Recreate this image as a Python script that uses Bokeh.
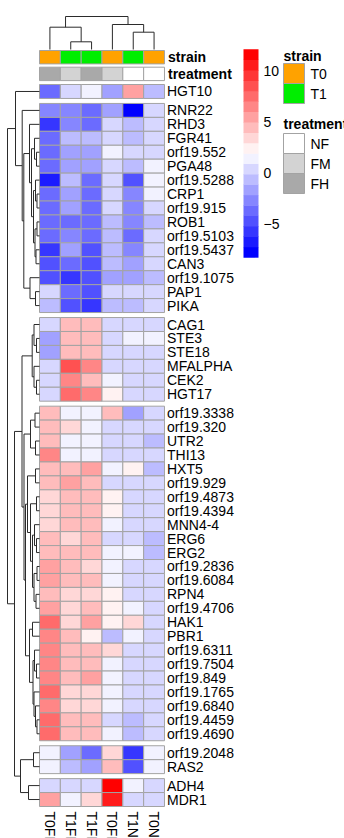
import math
from bokeh.plotting import figure
from bokeh.models import Range1d, ColumnDataSource, LinearColorMapper
from bokeh.core.properties import value
from bokeh.transform import transform
from bokeh.embed import file_html
from bokeh.resources import INLINE

# ---------------- data ----------------
genes = ["HGT10",
         "RNR22", "RHD3", "FGR41", "orf19.552", "PGA48", "orf19.5288", "CRP1", "orf19.915",
         "ROB1", "orf19.5103", "orf19.5437", "CAN3", "orf19.1075", "PAP1", "PIKA",
         "CAG1", "STE3", "STE18", "MFALPHA", "CEK2", "HGT17",
         "orf19.3338", "orf19.320", "UTR2", "THI13", "HXT5", "orf19.929", "orf19.4873",
         "orf19.4394", "MNN4-4", "ERG6", "ERG2", "orf19.2836", "orf19.6084", "RPN4",
         "orf19.4706", "HAK1", "PBR1", "orf19.6311", "orf19.7504", "orf19.849",
         "orf19.1765", "orf19.6840", "orf19.4459", "orf19.4690",
         "orf19.2048", "RAS2",
         "ADH4", "MDR1"]
row_cluster = [1] + [2] * 15 + [3] * 6 + [4] * 24 + [5] * 2 + [6] * 2

samples = ["T0FH", "T1FM", "T1FH", "T0FM", "T1NF", "T0NF"]
strain = ["T0", "T1", "T1", "T0", "T1", "T0"]
treatment = ["FH", "FM", "FH", "FM", "NF", "NF"]
strain_levels = ["T0", "T1"]
strain_colors = ["#FFA200", "#00EE00"]
treatment_levels = ["NF", "FM", "FH"]
treatment_colors = ["#FFFFFF", "#D3D3D3", "#A9A9A9"]

T0FH = [-3.6, -2.8, -5.9, -3.9, -3.8, -3.5, -7.0, -3.7, -3.9, -3.5, -3.9, -6.0, -4.6, -4.9, 0.1, -0.7,
        0.4, -1.9, -2.0, 0.5, 0.6, 0.5,
        4.2, 4.5, 4.4, 6.6, 4.3, 4.6, 3.5, 3.2, 3.3, 4.1, 4.4, 5.2, 5.6, 4.5, 5.3, 7.6, 6.4, 6.3,
        6.5, 6.2, 7.3, 6.4, 7.4, 7.7,
        1.3, 1.4, 0.2, 5.5]
T1FM = [0.2, -2.3, -2.9, -0.9, -1.9, -2.0, -0.8, -1.5, -1.8, -3.4, -2.9, -2.1, -3.8, -5.9, -3.8, -4.4,
        4.3, 4.4, 4.1, 8.7, 6.2, 7.6,
        1.2, 3.1, 1.3, 1.1, 4.7, 5.6, 4.2, 4.6, 4.3, 3.6, 4.2, 4.5, 4.4, 3.6, 3.5, 3.3, 4.2, 4.4,
        4.5, 4.6, 3.4, 3.7, 4.7, 4.5,
        -1.8, -1.1, 0.4, 1.2]
T1FH = [1.2, -3.9, -3.8, -1.0, -1.6, -1.7, -3.6, -3.9, -4.0, -3.8, -3.7, -4.9, -4.7, -4.6, -5.0, -5.5,
        4.2, 4.6, 4.5, 6.4, 4.8, 6.5,
        1.4, 1.2, 1.5, 1.3, 5.1, 4.7, 4.8, 4.4, 4.5, 4.3, 4.5, 3.6, 4.1, 3.7, 4.2, 5.4, 2.1, 4.6,
        4.3, 5.2, 3.5, 3.3, 4.4, 4.6,
        -3.6, -1.9, 0.5, 3.3]
T0FM = [-1.8, -1.6, 0.1, 0.3, 1.5, 0.2, 0.0, 0.4, 0.5, -0.7, -0.6, -0.9, -0.8, -1.8, 0.3, -0.4,
        0.2, 0.4, 0.1, 0.3, 1.3, 2.2,
        4.6, 0.6, 0.3, 0.3, 1.2, 0.4, 2.0, 2.0, 1.5, 0.6, 1.3, 1.2, 1.3, 2.1, 2.3, 2.2, -0.8, 3.5,
        1.4, 1.1, 1.3, 1.5, 0.5, 1.2,
        3.6, 4.2, 12.06, 10.6]
T1NF = [5.3, -8.33, -0.5, -0.8, 0.0, -1.1, -5.0, -2.9, -3.0, -2.6, -4.1, -2.4, -1.9, -1.5, 0.5, -1.0,
        0.6, 1.2, 0.5, 0.4, 0.4, 0.2,
        -1.8, 0.2, 0.4, 0.5, 2.1, 0.6, 0.5, 0.3, 0.4, 0.5, 1.6, 0.4, 0.6, 0.5, 1.4, 3.4, 1.3, 0.3,
        0.5, 0.4, 0.6, 0.3, -0.6, -0.9,
        -5.6, -4.8, 1.3, 0.5]
T0NF = [-0.6, 0.4, 0.5, 0.2, 0.4, 1.1, 1.3, 1.2, 0.6, -0.4, 0.3, 0.3, 0.1, -0.5, 0.2, 0.4,
        0.3, 1.4, 0.5, 0.6, 0.7, 0.3,
        0.5, 0.5, -0.9, 0.6, -0.8, 0.2, 0.4, 0.6, 0.3, -0.9, -1.0, 0.5, 0.4, 0.3, 0.4, 0.5, 0.6, 0.4,
        0.6, 0.5, 0.4, 0.5, 0.3, 0.4,
        1.2, 1.3, 0.6, 0.4]
matrix = [T0FH, T1FM, T1FH, T0FM, T1NF, T0NF]

# hierarchical clustering (left, right, merge height)
row_tree = [
    ["HGT10",
     ["RNR22",
      [["RHD3",
        [["FGR41", ["orf19.552", "PGA48", 3.0], 5.0],
         [["orf19.5288", ["CRP1", "orf19.915", 2.5], 4.0],
          [["ROB1", "orf19.5103", 2.5], ["orf19.5437", "CAN3", 3.5], 4.5], 6.0], 8.0], 10.0],
       ["orf19.1075", ["PAP1", "PIKA", 4.0], 9.5], 15.7], 17.3], 24.0],
    [[[["CAG1", ["STE3", "STE18", 3.0], 5.5],
        ["MFALPHA", ["CEK2", "HGT17", 3.0], 5.5], 7.3],
       [[["orf19.3338", "orf19.320", 4.5], ["UTR2", "THI13", 4.0], 9.0],
        [[["HXT5", "orf19.929", 4.0],
          [["orf19.4873", "orf19.4394", 3.0],
           [["MNN4-4", ["ERG6", "ERG2", 3.0], 5.0],
            [["orf19.2836", "orf19.6084", 2.5], ["RPN4", "orf19.4706", 3.5], 5.5], 7.0], 9.0], 12.0],
         [["HAK1", "PBR1", 7.0],
          [["orf19.6311", ["orf19.7504", "orf19.849", 3.0], 5.0],
           ["orf19.1765", ["orf19.6840", ["orf19.4459", "orf19.4690", 2.5], 4.0], 5.5], 6.5], 10.0],
         14.0], 15.5], 17.5],
     [["orf19.2048", "RAS2", 6.0], ["ADH4", "MDR1", 11.0], 19.0], 25.0],
    32.0]
col_tree = [["T0FH", ["T1FM", "T1FH", 7.7], 22.3],
            ["T0FM", ["T1NF", "T0NF", 17.3], 25.0], 33.0]

legend_ticks = [-5, 0, 5, 10]

# ---------------- palette (blue-white-red ramp, 20 steps) ----------------
N_COL = 20
palette = []
for k in range(N_COL):
    t = k / (N_COL - 1)
    if t <= 0.5:
        f = t / 0.5
        r, g, b = 255 * f, 255 * f, 255
    else:
        f = (t - 0.5) / 0.5
        r, g, b = 255, 255 * (1 - f), 255 * (1 - f)
    palette.append("#%02x%02x%02x" % (round(r), round(g), round(b)))

vmin = min(min(c) for c in matrix)
vmax = max(max(c) for c in matrix)
mapper = LinearColorMapper(palette=palette, low=vmin, high=vmax)

# ---------------- layout ----------------
W, H = 344, 838
X0, CW = 39.0, 20.83
Y0, RH, GAP = 84.0, 13.94, 5.0
ANN_TOP, ANN_H, ANN_STEP = 50.0, 13.4, 16.7
LABX = 166.5
FONT = value("Liberation Sans")
FS = value("14px")
BORDER = "#A3A3A3"
DEND = "#2b2b2b"

p = figure(width=W, height=H, x_range=Range1d(0, W), y_range=Range1d(H, 0),
           x_axis_type=None, y_axis_type=None, toolbar_location=None,
           output_backend="svg", min_border=0, outline_line_color=None)
p.grid.visible = False
p.background_fill_color = "white"
p.border_fill_color = "white"

def row_top(i):
    return Y0 + i * RH + (row_cluster[i] - 1) * GAP

row_center = [row_top(i) + RH / 2 for i in range(len(genes))]
col_center = [X0 + (j + 0.5) * CW for j in range(len(samples))]

# heatmap cells
xs, ys, vs = [], [], []
for j, col in enumerate(matrix):
    for i, v in enumerate(col):
        xs.append(col_center[j]); ys.append(row_center[i]); vs.append(v)
src = ColumnDataSource(dict(x=xs, y=ys, v=vs))
p.rect(x="x", y="y", width=CW, height=RH, source=src,
       fill_color=transform("v", mapper), line_color=BORDER, line_width=1)

# annotation tracks
ann_x, ann_y, ann_c = [], [], []
for j in range(len(samples)):
    ann_x.append(col_center[j]); ann_y.append(ANN_TOP + ANN_H / 2)
    ann_c.append(strain_colors[strain_levels.index(strain[j])])
    ann_x.append(col_center[j]); ann_y.append(ANN_TOP + ANN_STEP + ANN_H / 2)
    ann_c.append(treatment_colors[treatment_levels.index(treatment[j])])
p.rect(x=ann_x, y=ann_y, width=CW, height=ANN_H, fill_color=ann_c,
       line_color=BORDER, line_width=1)
p.text(x=[LABX + 1, LABX + 1],
       y=[ANN_TOP + ANN_H / 2, ANN_TOP + ANN_STEP + ANN_H / 2],
       text=["strain", "treatment"], text_font=FONT, text_font_size=FS,
       text_font_style="bold", text_baseline="middle", text_align="left")

# row labels
p.text(x=[LABX] * len(genes), y=row_center, text=genes, text_font=FONT,
       text_font_size=FS, text_baseline="middle", text_align="left", text_color="black")

# column labels
p.text(x=col_center, y=[811.0] * len(samples), text=samples, text_font=FONT,
       text_font_size=FS, text_baseline="middle", text_align="left",
       angle=-math.pi / 2)

# dendrograms
def build(node, leafpos, to_xy, lines):
    if isinstance(node, str):
        return leafpos[node], 0.0
    l, r, h = node
    pl, hl = build(l, leafpos, to_xy, lines)
    pr, hr = build(r, leafpos, to_xy, lines)
    pts = [to_xy(pl, hl), to_xy(pl, h), to_xy(pr, h), to_xy(pr, hr)]
    lines.append(([q[0] for q in pts], [q[1] for q in pts]))
    return (pl + pr) / 2, h

row_lines = []
build(row_tree, dict(zip(genes, row_center)), lambda pos, h: (X0 - h, pos), row_lines)
col_lines = []
build(col_tree, dict(zip(samples, col_center)), lambda pos, h: (pos, ANN_TOP - 1 - h), col_lines)
p.multi_line(xs=[a for a, b in row_lines + col_lines], ys=[b for a, b in row_lines + col_lines],
             line_color=DEND, line_width=1)

# colour legend
LB_X, LB_W, LT, LB = 243.0, 15.0, 49.0, 257.0
bh = (LB - LT) / N_COL
p.rect(x=[LB_X + LB_W / 2] * N_COL, y=[LB - (k + 0.5) * bh for k in range(N_COL)],
       width=LB_W, height=bh + 0.4, fill_color=palette, line_color=None)
tick_y = [LB - (t - vmin) / (vmax - vmin) * (LB - LT) for t in legend_ticks]
p.text(x=[LB_X + LB_W + 5] * len(legend_ticks), y=tick_y,
       text=[str(t).replace("-", "\u2212") for t in legend_ticks], text_font=FONT,
       text_font_size=FS, text_baseline="middle", text_align="left")

# annotation legends
LGX, BOXW, BOXH = 283.0, 21.0, 20.0
def ann_legend(title, levels, colors, title_y, box_top):
    p.text(x=[LGX], y=[title_y], text=[title], text_font=FONT, text_font_size=FS,
           text_font_style="bold", text_baseline="middle", text_align="left")
    n = len(levels)
    cy = [box_top + (k + 0.5) * BOXH for k in range(n)]
    p.rect(x=[LGX + BOXW / 2] * n, y=cy, width=BOXW, height=BOXH, fill_color=colors,
           line_color=BORDER, line_width=1)
    p.text(x=[LGX + BOXW + 6] * n, y=cy, text=levels, text_font=FONT, text_font_size=FS,
           text_baseline="middle", text_align="left")

ann_legend("strain", strain_levels, strain_colors, 55.0, 63.0)
ann_legend("treatment", treatment_levels, treatment_colors, 123.0, 133.0)

open("out.html", "w").write(file_html(p, INLINE))
